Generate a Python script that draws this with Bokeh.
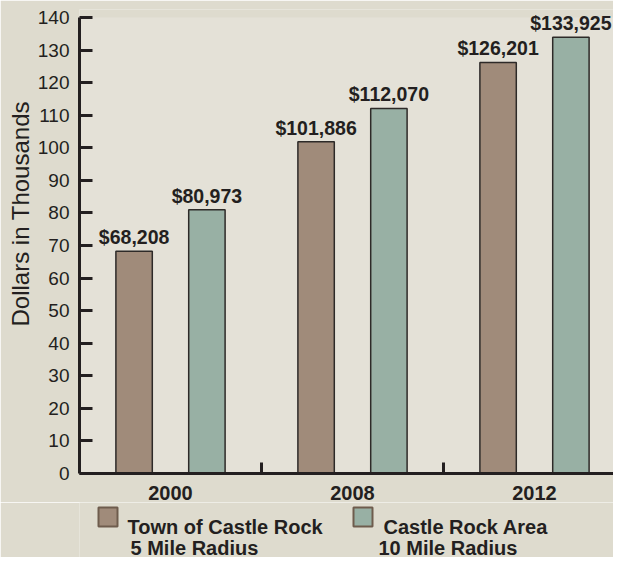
import numpy as np
from bokeh.plotting import figure
from bokeh.layouts import column
from bokeh.models import (ColumnDataSource, Range1d, FixedTicker, LabelSet,
                          BoxAnnotation, Title)
from bokeh.core.properties import value
from bokeh.embed import file_html
from bokeh.resources import INLINE

# ---- data ----
years = ["2000", "2008", "2012"]
town_5mi = [68.208, 101.886, 126.201]     # thousands of dollars
area_10mi = [80.973, 112.070, 133.925]
series_line1 = ["Town of Castle Rock", "Castle Rock Area"]
series_line2 = ["5 Mile Radius", "10 Mile Radius"]
y_ticks = list(range(0, 141, 10))
y_max = 140
y_title = "Dollars in Thousands"

# ---- styles / layout ----
BROWN = "#a08b7a"
GREEN = "#98b0a4"
DARK = "#231f20"
OUTER = "#dedbce"
INNER = "#e4e1d7"
FONT = "Liberation Sans"
W = 613
LEFT = 79            # left border (px)
FRAME_W = W - LEFT
CAT_PX = 182         # pixels per category
TOP = 9              # frame top (px); the 140 line sits 8px lower
HEAD = 8
FRAME_H = 465
BOTTOM = 28
MAIN_H = TOP + FRAME_H + BOTTOM
LEG_H = 557 - MAIN_H

px_per_unit = (FRAME_H - HEAD) / y_max
y_end = y_max + HEAD / px_per_unit

idx = np.arange(len(years))
centers = idx + 0.5
offset = 0.2
bar_w = 0.2

def money(v):
    return "${:,}".format(int(round(v * 1000)))

src_town = ColumnDataSource(dict(x=centers - offset, top=town_5mi,
                                 label=[money(v) for v in town_5mi]))
src_area = ColumnDataSource(dict(x=centers + offset, top=area_10mi,
                                 label=[money(v) for v in area_10mi]))

p = figure(width=W, height=MAIN_H, output_backend="svg", toolbar_location=None,
           x_range=Range1d(0, FRAME_W / CAT_PX), y_range=Range1d(0, y_end),
           min_border_left=LEFT, min_border_right=0, min_border_top=TOP,
           min_border_bottom=BOTTOM)
p.background_fill_color = OUTER
p.border_fill_color = OUTER
p.outline_line_color = None
p.xgrid.visible = False
p.ygrid.visible = False

# lighter plotting area from 0 to 140
p.add_layout(BoxAnnotation(bottom=0, top=y_max, fill_color=INNER, fill_alpha=1,
                           line_color=None, level="underlay"))

p.vbar(x="x", top="top", width=bar_w, source=src_town,
       fill_color=BROWN, line_color="#2d2a28", line_width=1.5)
p.vbar(x="x", top="top", width=bar_w, source=src_area,
       fill_color=GREEN, line_color="#2d2a28", line_width=1.5)

for src in (src_town, src_area):
    ls = LabelSet(x="x", y="top", text="label", source=src, text_align="center",
                  text_baseline="alphabetic", y_offset=7,
                  text_font=value(FONT), text_font_style="bold",
                  text_font_size="19.5px", text_color=DARK)
    p.add_layout(ls)

# y axis
ya = p.yaxis[0]
ya.ticker = FixedTicker(ticks=y_ticks)
ya.bounds = (0, y_max)
ya.major_label_text_font = FONT
ya.major_label_text_font_size = "19px"
ya.major_label_text_color = DARK
ya.major_label_standoff = 10
ya.axis_line_width = 3
ya.axis_line_color = DARK
ya.major_tick_in = 13
ya.major_tick_out = 0
ya.major_tick_line_width = 3
ya.major_tick_line_color = DARK
ya.minor_tick_line_color = None

# y title, sitting above the frame centre as in the original
p.add_layout(Title(text=y_title, align="left", offset=147, standoff=2,
                   text_font=FONT, text_font_style="normal",
                   text_font_size="24px", text_color=DARK), "left")

# x axis
xa = p.xaxis[0]
xa.ticker = FixedTicker(ticks=list(centers), minor_ticks=list(idx[1:].astype(float)))
xa.major_label_overrides = {float(c): y for c, y in zip(centers, years)}
xa.major_label_text_font = FONT
xa.major_label_text_font_style = "bold"
xa.major_label_text_font_size = "20px"
xa.major_label_text_color = DARK
xa.major_label_standoff = 6
xa.axis_line_width = 3
xa.axis_line_color = DARK
xa.major_tick_line_color = None
xa.minor_tick_in = 11
xa.minor_tick_out = 0
xa.minor_tick_line_width = 3
xa.minor_tick_line_color = DARK

# ---- legend strip (pixel-scaled figure, frame aligned with main frame) ----
leg = figure(width=W, height=LEG_H, output_backend="svg", toolbar_location=None,
             x_range=Range1d(0, FRAME_W), y_range=Range1d(0, LEG_H),
             min_border_left=LEFT, min_border_right=0,
             min_border_top=0, min_border_bottom=0,
             x_axis_type=None, y_axis_type=None)
leg.background_fill_color = OUTER
leg.border_fill_color = OUTER
leg.outline_line_color = None
leg.xgrid.visible = False
leg.ygrid.visible = False

sq_left = [19, 274]
sq_size = 19
base1 = LEG_H - 5 - sq_size
base2 = 10
txt1_x = [48, 304]
txt2_x = [51, 299]
leg.quad(left=sq_left, right=[v + sq_size for v in sq_left],
         top=[base1 + sq_size] * 2, bottom=[base1] * 2,
         fill_color=[BROWN, GREEN], line_color="#6e5c4d", line_width=2)
leg.text(x=txt1_x, y=[base1] * 2, text=series_line1, text_font=value(FONT),
         text_font_style="bold", text_font_size="20px", text_color=DARK,
         text_baseline="alphabetic", text_align="left")
leg.text(x=txt2_x, y=[base2] * 2, text=series_line2, text_font=value(FONT),
         text_font_style="bold", text_font_size="20px", text_color=DARK,
         text_baseline="alphabetic", text_align="left")

layout = column(p, leg, spacing=0)
open("out.html", "w").write(file_html(layout, INLINE))
